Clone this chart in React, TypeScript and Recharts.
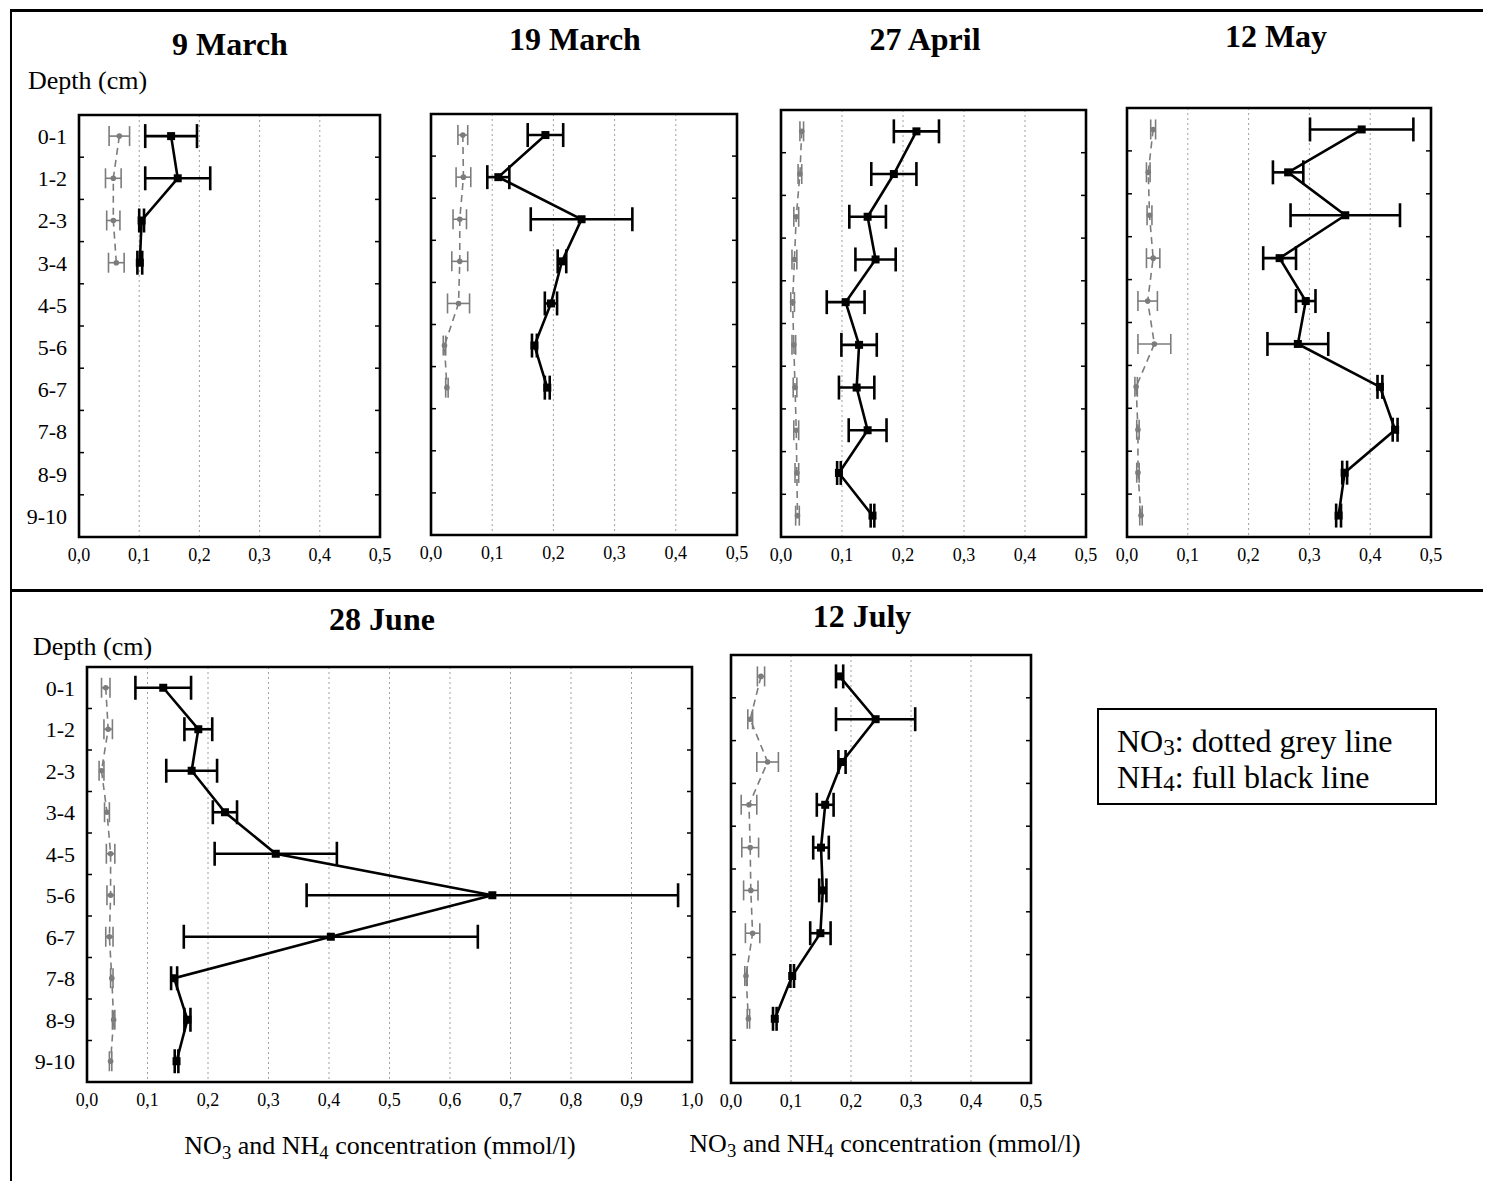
import React from 'react';
import { LineChart, Line, XAxis, YAxis, CartesianGrid, ErrorBar, ReferenceArea, ReferenceLine } from 'recharts';

const SERIF = '"Liberation Serif", "Times New Roman", serif';

// depth classes (cm) and their mid positions
const depthLabels = ['0-1', '1-2', '2-3', '3-4', '4-5', '5-6', '6-7', '7-8', '8-9', '9-10'];
const depthMid = [0.5, 1.5, 2.5, 3.5, 4.5, 5.5, 6.5, 7.5, 8.5, 9.5];
const depthBounds = [1, 2, 3, 4, 5, 6, 7, 8, 9];

const ticksHalf = [0, 0.1, 0.2, 0.3, 0.4, 0.5];
const ticksOne = [0, 0.1, 0.2, 0.3, 0.4, 0.5, 0.6, 0.7, 0.8, 0.9, 1.0];

// 9 March
const mar9No3 = [0.067, 0.057, 0.057, 0.062];
const mar9No3Err = [0.017, 0.013, 0.011, 0.013];
const mar9Nh4 = [0.153, 0.164, 0.104, 0.101];
const mar9Nh4Err = [0.043, 0.054, 0.004, 0.004];

// 19 March
const mar19No3 = [0.052, 0.053, 0.047, 0.047, 0.045, 0.022, 0.026];
const mar19No3Err = [0.008, 0.012, 0.011, 0.013, 0.018, 0.002, 0.002];
const mar19Nh4 = [0.187, 0.11, 0.246, 0.214, 0.196, 0.169, 0.19];
const mar19Nh4Err = [0.029, 0.018, 0.083, 0.007, 0.01, 0.004, 0.004];

// 27 April
const apr27No3 = [0.034, 0.031, 0.025, 0.022, 0.019, 0.021, 0.023, 0.025, 0.026, 0.027];
const apr27No3Err = [0.003, 0.003, 0.004, 0.004, 0.003, 0.003, 0.003, 0.004, 0.003, 0.003];
const apr27Nh4 = [0.222, 0.185, 0.142, 0.155, 0.106, 0.128, 0.124, 0.142, 0.095, 0.15];
const apr27Nh4Err = [0.037, 0.037, 0.03, 0.033, 0.031, 0.029, 0.029, 0.031, 0.003, 0.003];

// 12 May
const may12No3 = [0.043, 0.035, 0.037, 0.043, 0.034, 0.045, 0.015, 0.018, 0.018, 0.023];
const may12No3Err = [0.004, 0.003, 0.004, 0.011, 0.016, 0.027, 0.002, 0.002, 0.002, 0.002];
const may12Nh4 = [0.386, 0.265, 0.359, 0.251, 0.294, 0.281, 0.416, 0.441, 0.358, 0.348];
const may12Nh4Err = [0.085, 0.025, 0.09, 0.027, 0.016, 0.05, 0.004, 0.004, 0.004, 0.004];

// 28 June
const jun28No3 = [0.031, 0.035, 0.024, 0.033, 0.039, 0.039, 0.037, 0.041, 0.044, 0.039];
const jun28No3Err = [0.007, 0.007, 0.004, 0.004, 0.007, 0.006, 0.006, 0.002, 0.002, 0.002];
const jun28Nh4 = [0.126, 0.184, 0.173, 0.228, 0.312, 0.67, 0.403, 0.144, 0.166, 0.148];
const jun28Nh4Err = [0.046, 0.023, 0.042, 0.02, 0.101, 0.307, 0.243, 0.005, 0.005, 0.003];

// 12 July
const jul12No3 = [0.05, 0.032, 0.061, 0.03, 0.032, 0.033, 0.036, 0.025, 0.029];
const jul12No3Err = [0.006, 0.004, 0.018, 0.013, 0.014, 0.012, 0.012, 0.002, 0.002];
const jul12Nh4 = [0.181, 0.241, 0.185, 0.157, 0.15, 0.153, 0.149, 0.102, 0.073];
const jul12Nh4Err = [0.006, 0.066, 0.006, 0.014, 0.013, 0.006, 0.017, 0.003, 0.003];

function rows(no3: number[], no3e: number[], nh4: number[], nh4e: number[]) {
  return no3.map((v, i) => ({
    d: depthMid[i],
    no3: v,
    no3e: no3e[i],
    nh4: nh4[i],
    nh4e: nh4e[i],
  }));
}

const fmtComma = (v: number) => v.toFixed(1).replace('.', ',');
const fmtDepth = (v: number) => depthLabels[depthMid.indexOf(v)] ?? '';

const SquareDot = (p: any) => {
  if (p.cx == null || p.cy == null) return <g key={p.key} />;
  return <rect key={p.key} x={p.cx - 4} y={p.cy - 4} width={8} height={8} fill="#000" />;
};
const CircleDot = (p: any) => {
  if (p.cx == null || p.cy == null) return <g key={p.key} />;
  return <circle key={p.key} cx={p.cx} cy={p.cy} r={2.8} fill="#7c7c7c" />;
};

type PanelCfg = {
  title: string;
  data: any[];
  xMax: number;
  ticks: number[];
  x: number; // plot box left (page px)
  y: number; // plot box top
  w: number;
  h: number;
  showY: boolean;
  tx: number; // title centre
  ty: number;
};

const panels: PanelCfg[] = [
  { title: '9 March', data: rows(mar9No3, mar9No3Err, mar9Nh4, mar9Nh4Err), xMax: 0.5, ticks: ticksHalf, x: 79, y: 115, w: 301, h: 422, showY: true, tx: 230, ty: 45 },
  { title: '19 March', data: rows(mar19No3, mar19No3Err, mar19Nh4, mar19Nh4Err), xMax: 0.5, ticks: ticksHalf, x: 431, y: 114, w: 306, h: 421, showY: false, tx: 575, ty: 40 },
  { title: '27 April', data: rows(apr27No3, apr27No3Err, apr27Nh4, apr27Nh4Err), xMax: 0.5, ticks: ticksHalf, x: 781, y: 110, w: 305, h: 427, showY: false, tx: 925, ty: 40 },
  { title: '12 May', data: rows(may12No3, may12No3Err, may12Nh4, may12Nh4Err), xMax: 0.5, ticks: ticksHalf, x: 1127, y: 108, w: 304, h: 429, showY: false, tx: 1276, ty: 37 },
  { title: '28 June', data: rows(jun28No3, jun28No3Err, jun28Nh4, jun28Nh4Err), xMax: 1.0, ticks: ticksOne, x: 87, y: 667, w: 605, h: 415, showY: true, tx: 382, ty: 620 },
  { title: '12 July', data: rows(jul12No3, jul12No3Err, jul12Nh4, jul12Nh4Err), xMax: 0.5, ticks: ticksHalf, x: 731, y: 655, w: 300, h: 428, showY: false, tx: 862, ty: 617 },
];

const OFF = 8; // body margin

function Txt({ x, y, size, bold, anchor, children }: any) {
  const middle = anchor !== 'start';
  return (
    <div
      style={{
        position: 'absolute',
        left: middle ? x - OFF - 400 : x - OFF,
        width: middle ? 800 : undefined,
        top: y - OFF - size * 0.52,
        fontSize: size,
        lineHeight: `${size}px`,
        fontFamily: SERIF,
        fontWeight: bold ? 700 : 400,
        textAlign: middle ? 'center' : 'left',
        whiteSpace: 'nowrap',
        color: '#000',
      }}
    >
      {children}
    </div>
  );
}

function Panel({ cfg }: { cfg: PanelCfg }) {
  const yW = cfg.showY ? 60 : 0;
  const mLeft = cfg.showY ? 0 : 18;
  const mTop = 6;
  const mRight = 18;
  const xH = 36;
  const width = mLeft + yW + cfg.w + mRight;
  const height = mTop + cfg.h + xH;
  // inner depth tick marks are ~5 px long
  const tickLen = (cfg.xMax * 5) / cfg.w;
  return (
    <div style={{ position: 'absolute', left: cfg.x - yW - mLeft - OFF, top: cfg.y - mTop - OFF }}>
      <LineChart
        layout="vertical"
        width={width}
        height={height}
        data={cfg.data}
        margin={{ top: mTop, right: mRight, bottom: 0, left: mLeft }}
      >
        <CartesianGrid horizontal={false} stroke="#a0a0a0" strokeDasharray="2 3" strokeWidth={1} />
        <XAxis
          type="number"
          domain={[0, cfg.xMax]}
          ticks={cfg.ticks}
          interval={0}
          allowDataOverflow
          tickFormatter={fmtComma}
          axisLine={false}
          tickLine={false}
          height={xH}
          tickSize={6}
          tickMargin={5}
          tick={{ fill: '#000', fontSize: 18, fontFamily: SERIF }}
        />
        <YAxis
          type="number"
          dataKey="d"
          domain={[0, 10]}
          allowDataOverflow
          ticks={depthMid}
          interval={0}
          tickFormatter={fmtDepth}
          hide={!cfg.showY}
          width={cfg.showY ? yW : 0}
          axisLine={false}
          tickLine={false}
          tickSize={6}
          tickMargin={6}
          tick={{ fill: '#000', fontSize: 22, fontFamily: SERIF }}
        />
        {depthBounds.map((b) => (
          <ReferenceLine
            key={`l${b}`}
            segment={[{ x: 0, y: b }, { x: tickLen, y: b }]}
            stroke="#000"
            strokeWidth={1.5}
            ifOverflow="visible"
          />
        ))}
        {depthBounds.map((b) => (
          <ReferenceLine
            key={`r${b}`}
            segment={[{ x: cfg.xMax - tickLen, y: b }, { x: cfg.xMax, y: b }]}
            stroke="#000"
            strokeWidth={1.5}
            ifOverflow="visible"
          />
        ))}
        <Line
          dataKey="no3"
          stroke="#7c7c7c"
          strokeWidth={1.6}
          strokeDasharray="7 5"
          dot={CircleDot}
          activeDot={false}
          isAnimationActive={false}
        >
          <ErrorBar dataKey="no3e" direction="x" width={10} stroke="#7c7c7c" strokeWidth={1.6} isAnimationActive={false} />
        </Line>
        <Line
          dataKey="nh4"
          stroke="#000"
          strokeWidth={2.6}
          dot={SquareDot}
          activeDot={false}
          isAnimationActive={false}
        >
          <ErrorBar dataKey="nh4e" direction="x" width={12} stroke="#000" strokeWidth={2.6} isAnimationActive={false} />
        </Line>
        <ReferenceArea
          x1={0}
          x2={cfg.xMax}
          y1={0}
          y2={10}
          fill="none"
          fillOpacity={0}
          stroke="#000"
          strokeWidth={2.6}
          strokeOpacity={1}
          ifOverflow="visible"
        />
      </LineChart>
    </div>
  );
}

const sub = (t: string, v = '-0.25em') => <span style={{ fontSize: '72%', verticalAlign: v }}>{t}</span>;

export default function App() {
  return (
    <div
      style={{
        position: 'relative',
        width: 1483,
        height: 1173,
        overflow: 'hidden',
        background: '#fff',
        fontFamily: SERIF,
      }}
    >
      {/* outer frame */}
      <div style={{ position: 'absolute', left: 2, top: 1, width: 1600, height: 1400, borderTop: '3px solid #000', borderLeft: '2px solid #000' }} />
      <div style={{ position: 'absolute', left: 2, top: 581, width: 1600, height: 3, background: '#000' }} />

      {panels.map((p) => (
        <React.Fragment key={p.title}>
          <Panel cfg={p} />
          <Txt x={p.tx} y={p.ty} size={32} bold>
            {p.title}
          </Txt>
        </React.Fragment>
      ))}

      <Txt x={28} y={82} size={26} anchor="start">Depth (cm)</Txt>
      <Txt x={33} y={648} size={26} anchor="start">Depth (cm)</Txt>

      <Txt x={380} y={1147} size={26}>
        NO{sub('3')} and NH{sub('4')} concentration (mmol/l)
      </Txt>
      <Txt x={885} y={1145} size={26}>
        NO{sub('3')} and NH{sub('4')} concentration (mmol/l)
      </Txt>

      {/* legend */}
      <div
        style={{
          position: 'absolute',
          left: 1097 - OFF,
          top: 708 - OFF,
          width: 336,
          height: 93,
          border: '2px solid #000',
          boxSizing: 'content-box',
        }}
      />
      <Txt x={1117} y={742} size={32} anchor="start">
        NO{sub('3', '-0.15em')}: dotted grey line
      </Txt>
      <Txt x={1117} y={778} size={32} anchor="start">
        NH{sub('4', '-0.15em')}: full black line
      </Txt>
    </div>
  );
}
